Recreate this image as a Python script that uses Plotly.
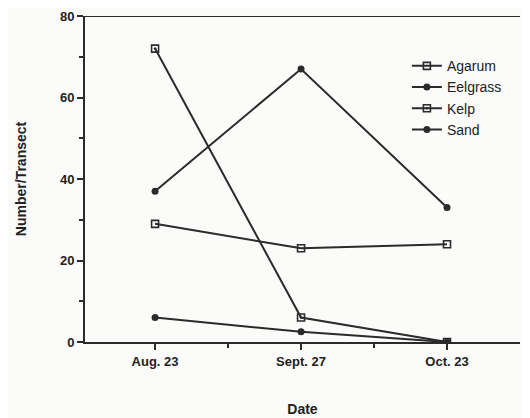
import plotly.graph_objects as go

dates = ["Aug. 23", "Sept. 27", "Oct. 23"]
agarum = [29, 23, 24]
eelgrass = [37, 67, 33]
kelp = [72, 6, 0]
sand = [6, 2.5, 0]

xpos = list(range(len(dates)))
col = "#2b2b2b"

series = [
    ("Agarum", agarum, dict(symbol="square-open", size=7, color=col, line=dict(width=1.6, color=col))),
    ("Eelgrass", eelgrass, dict(symbol="circle", size=7, color=col)),
    ("Kelp", kelp, dict(symbol="square-open-dot", size=7, color=col, line=dict(width=1.6, color=col))),
    ("Sand", sand, dict(symbol="circle", size=7, color=col)),
]

fig = go.Figure()
for name, vals, mk in series:
    fig.add_trace(go.Scatter(
        x=xpos, y=vals, name=name, mode="lines+markers",
        line=dict(color=col, width=2), marker=mk,
    ))

fig.add_shape(type="line", xref="paper", yref="y", x0=0, x1=1, y0=80, y1=80,
              line=dict(color=col, width=2))

tickfont = dict(size=13, weight="bold", color="#222")

fig.update_layout(
    width=522, height=410,
    margin=dict(l=77, r=10, t=8, b=76),
    paper_bgcolor="#fbfbfa", plot_bgcolor="#fbfbfa",
    font=dict(family="Liberation Sans, Arial, sans-serif", color="#222", size=12),
    showlegend=True,
    legend=dict(x=0.74, y=0.895, xanchor="left", yanchor="top",
                bgcolor="rgba(0,0,0,0)", font=dict(size=14), tracegroupgap=0,
                itemwidth=30),
    xaxis=dict(
        range=[-0.48, 2.5], tickmode="array", tickvals=xpos, ticktext=dates,
        showgrid=False, zeroline=False, showline=True, linecolor=col, linewidth=2,
        ticks="outside", ticklen=6, tickwidth=1.5, tickcolor=col, tickfont=tickfont,
        minor=dict(tickmode="array", tickvals=[0.5, 1.5], ticks="outside", ticklen=4, tickcolor=col),
        title=dict(text="<b>Date</b>", standoff=37, font=dict(size=14)),
        automargin=False,
    ),
    yaxis=dict(
        range=[0, 80], tickvals=[0, 20, 40, 60, 80],
        showgrid=False, zeroline=False, showline=True, linecolor=col, linewidth=2,
        ticks="outside", ticklen=6, tickwidth=1.5, tickcolor=col, tickfont=tickfont,
        ticklabeloverflow="allow",
        minor=dict(dtick=10, ticks="outside", ticklen=4, tickcolor=col),
        title=dict(text="<b>Number/Transect</b>", standoff=30, font=dict(size=14)),
        automargin=False,
    ),
)

fig.write_html("out.html")
